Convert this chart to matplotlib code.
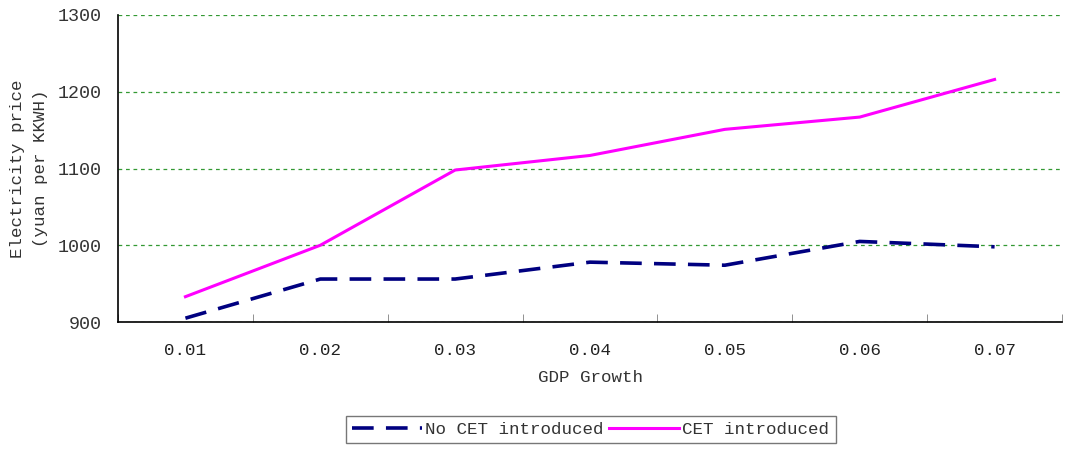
import numpy as np
import matplotlib.pyplot as plt

gdp_growth = ["0.01", "0.02", "0.03", "0.04", "0.05", "0.06", "0.07"]
no_cet = [905, 956, 956, 978, 974, 1005, 998]
cet = [933, 1000, 1098, 1117, 1151, 1167, 1216]

plt.rcParams["font.family"] = ["Liberation Mono", "DejaVu Sans Mono"]
plt.rcParams["font.size"] = 12.6

fig = plt.figure(figsize=(10.65, 4.5), dpi=100)
ax = fig.add_axes([0.1108, 0.2844, 0.8864, 0.6823])

x = np.arange(len(gdp_growth))
ax.plot(x, no_cet, color="#000080", linewidth=2.6, dashes=(6, 3.4),
        label="No CET introduced")
ax.plot(x, cet, color="#ff00ff", linewidth=2.2, label="CET introduced")

ax.set_xlim(-0.5, len(gdp_growth) - 0.5)
ax.set_ylim(900, 1300)
ax.set_yticks([900, 1000, 1100, 1200, 1300])
ax.set_xticks(x)
ax.set_xticklabels(gdp_growth)
ax.set_xticks(np.arange(len(gdp_growth) + 1) - 0.5, minor=True)
ax.tick_params(axis="x", which="major", length=0, pad=15, colors="#222222")
ax.tick_params(axis="x", which="minor", length=6, direction="in", color="#808080")
ax.tick_params(axis="y", length=0, pad=12, colors="#333333", labelsize=13.2)

ax.yaxis.grid(True, color="#339933", linestyle=(0, (3, 3)), linewidth=0.9)
for s in ["top", "right"]:
    ax.spines[s].set_visible(False)
for s in ["left", "bottom"]:
    ax.spines[s].set_color("black")
    ax.spines[s].set_linewidth(1.2)

ax.set_xlabel("GDP Growth", color="#333333", labelpad=9)
ax.set_ylabel("Electricity price\n(yuan per KKWH)", color="#333333",
              labelpad=7, linespacing=1.6)

leg = fig.legend(loc="center", bbox_to_anchor=(0.5545, 0.0455), ncol=2,
                 frameon=True, fancybox=False, edgecolor="#555555",
                 handlelength=4, handletextpad=0.2, columnspacing=0.3,
                 borderpad=0.35, labelcolor="#333333")
leg.get_frame().set_linewidth(1.0)

fig.savefig("out.png", dpi=100)
